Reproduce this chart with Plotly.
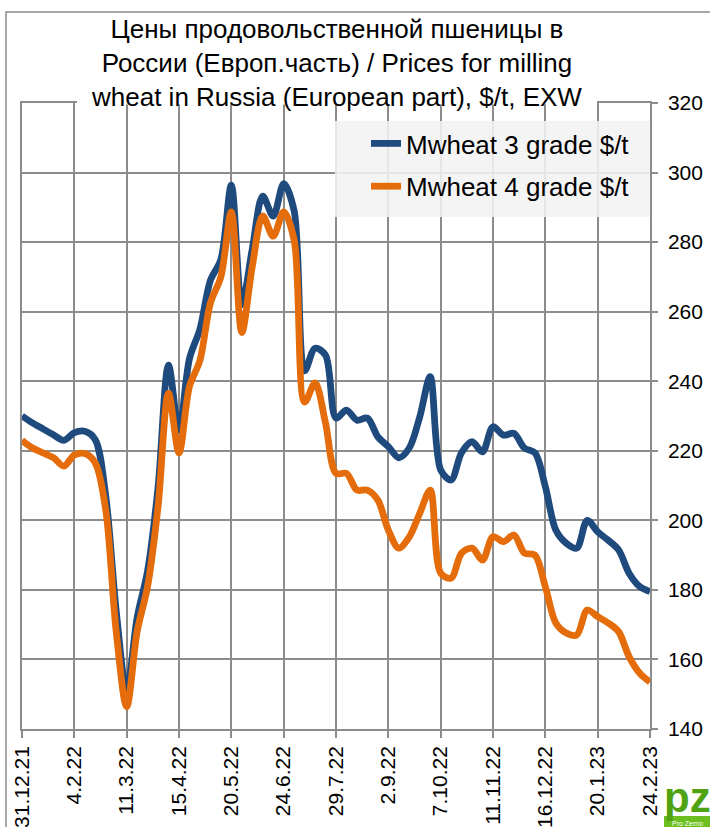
import pandas as pd
import plotly.graph_objects as go

# Weekly dates (Fridays) from 31.12.2021 to 24.02.2023
dates = pd.date_range("2021-12-31", periods=61, freq="7D")

grade3 = [230, 228, 226.3, 224.6, 223, 225.2, 225.6, 223.2, 207, 174,
          151, 172, 185.5, 209.5, 244.6, 226, 246.5, 255, 269, 275,
          296.4, 262, 278, 293.2, 287.5, 296.8, 289, 243, 249.5, 247.5,
          229.4, 231.7, 228.8, 229.4, 224, 221.2, 218, 220.8, 229.7, 241.3,
          214.5, 211.6, 219.5, 222.6, 219.7, 226.9, 224.5, 225, 220.8, 219.4,
          209.7, 197.2, 193.4, 192, 200, 196.7, 194.3, 191.5, 184.8, 181,
          179.5]

grade4 = [223, 220.8, 219.4, 218, 215.6, 218.8, 219.2, 216.5, 203, 168,
          146.4, 168, 181, 204, 236.6, 219.4, 238.5, 246, 262.5, 270,
          288.7, 254, 273, 287.5, 281.7, 288.7, 280.6, 234, 239.5, 228,
          213.5, 213.5, 208.7, 208.7, 205.8, 197.2, 192, 195.2, 202, 208.7,
          184.8, 183.4, 190.6, 192, 188.6, 195.3, 193.9, 195.8, 190.6, 190,
          180.9, 170.5, 167.6, 167, 174.2, 172.3, 170.5, 168, 160.8, 156.1,
          153.5]

tick_dates = ["2021-12-31", "2022-02-04", "2022-03-11", "2022-04-15", "2022-05-20",
              "2022-06-24", "2022-07-29", "2022-09-02", "2022-10-07", "2022-11-11",
              "2022-12-16", "2023-01-20", "2023-02-24"]
tick_labels = ["31.12.21", "4.2.22", "11.3.22", "15.4.22", "20.5.22", "24.6.22",
               "29.7.22", "2.9.22", "7.10.22", "11.11.22", "16.12.22", "20.1.23", "24.2.23"]
y_ticks = [140, 160, 180, 200, 220, 240, 260, 280, 300, 320]

series_names = ["Mwheat 3 grade $/t", "Mwheat 4 grade $/t"]
colors = ["#1F4A7D", "#E46C0A"]

W, H = 710, 827
L, R, T, B = 22, 60, 103, 98
PW, PH = W - L - R, H - T - B


def px(xp):
    return (xp - L) / PW


def py(yp):
    return (H - B - yp) / PH


FONT = "Liberation Sans, Arial, sans-serif"
GRID = "#8c8c8c"

fig = go.Figure()
for name, vals, col in zip(series_names, [grade3, grade4], colors):
    fig.add_trace(go.Scatter(
        x=dates, y=vals, name=name, mode="lines",
        line=dict(color=col, width=6.8, shape="spline", smoothing=0.9),
        legendgroup=name,
    ))

shapes = [
    # legend background
    dict(type="rect", xref="paper", yref="paper", layer="above",
         x0=px(335), x1=px(650), y0=py(217), y1=py(121),
         fillcolor="rgba(242,242,242,0.88)", line=dict(width=0)),
    # title box (white)
    dict(type="rect", xref="paper", yref="paper", layer="above",
         x0=px(77), x1=px(597), y0=py(104.5), y1=py(13),
         fillcolor="white", line=dict(width=0)),
    # outer chart border
    dict(type="rect", xref="paper", yref="paper", layer="above",
         x0=px(6), x1=px(720), y0=py(840), y1=py(12),
         fillcolor="rgba(0,0,0,0)", line=dict(color="#8a8a8a", width=1.5)),
    # logo strip
    dict(type="rect", xref="paper", yref="paper", layer="above",
         x0=px(664), x1=px(712), y0=py(829), y1=py(816),
         fillcolor="#6cbf1f", line=dict(width=0)),
]

annotations = [
    dict(xref="paper", yref="paper", x=px(336), y=py(63), xanchor="center", yanchor="middle",
         text="Цены продовольственной пшеницы в<br>России (Европ.часть) / Prices for milling<br>"
              "wheat in Russia (European part), $/t, EXW",
         showarrow=False, font=dict(family=FONT, size=26, color="#000000")),
    dict(xref="paper", yref="paper", x=px(662), y=py(797), xanchor="left", yanchor="middle",
         text="<b>pz</b>", showarrow=False,
         font=dict(family=FONT, size=42, color="#4fa312")),
    dict(xref="paper", yref="paper", x=px(670), y=py(823), xanchor="left", yanchor="middle",
         text="Pro Zerno", showarrow=False,
         font=dict(family=FONT, size=7, color="#ffffff")),
]

fig.update_layout(
    width=W, height=H,
    margin=dict(l=L, r=R, t=T, b=B, pad=0, autoexpand=False),
    paper_bgcolor="white", plot_bgcolor="white",
    font=dict(family=FONT, color="#000000"),
    showlegend=True,
    legend=dict(x=px(366), y=py(120), xanchor="left", yanchor="top",
                bgcolor="rgba(0,0,0,0)", borderwidth=0,
                font=dict(family=FONT, size=26, color="#000000"),
                tracegroupgap=6, traceorder="grouped"),
    shapes=shapes,
    annotations=annotations,
)

fig.update_xaxes(
    type="date", range=[dates[0], dates[-1]], automargin=False,
    tickmode="array", tickvals=tick_dates, ticktext=tick_labels,
    tickangle=-90, tickfont=dict(family=FONT, size=21, color="#000000"),
    ticks="outside", ticklen=7, tickcolor=GRID, tickwidth=1.5,
    showgrid=True, gridcolor=GRID, gridwidth=1.5,
    showline=True, linecolor=GRID, linewidth=1.5, mirror=True,
    zeroline=False,
)
fig.update_yaxes(
    side="right", range=[140, 320], tickmode="array", tickvals=y_ticks, automargin=False,
    tickfont=dict(family=FONT, size=21, color="#000000"),
    ticks="outside", ticklen=6, tickcolor=GRID, tickwidth=1.5,
    ticklabelstandoff=6,
    showgrid=True, gridcolor=GRID, gridwidth=1.5,
    showline=True, linecolor=GRID, linewidth=1.5, mirror=True,
    zeroline=False,
)

fig.write_html("out.html", config={"displayModeBar": False},
               post_script="document.body.style.margin='0';document.body.style.overflow='hidden';")
